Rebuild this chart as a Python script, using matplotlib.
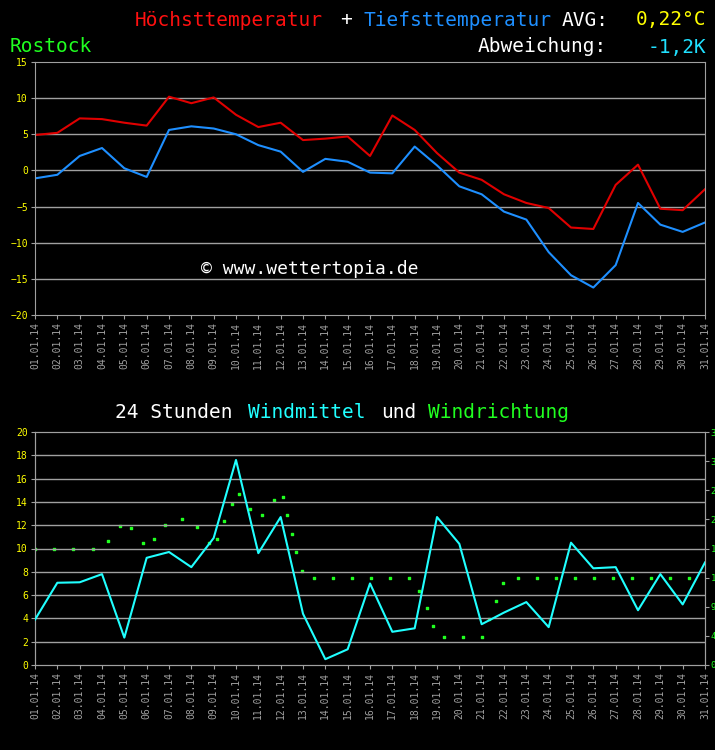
import matplotlib
matplotlib.use("Agg")
import matplotlib.pyplot as plt
import numpy as np

days = list(range(1, 32))
labels = [f"{d:02d}.01.14" for d in days]
tmax = [4.9,5.2,7.2,7.1,6.6,6.2,10.2,9.3,10.1,7.7,6.0,6.6,4.2,4.4,4.7,2.0,7.6,5.6,2.4,-0.3,-1.3,-3.3,-4.5,-5.2,-7.9,-8.1,-2.0,0.8,-5.3,-5.5,-2.6]
tmin = [-1.1,-0.6,2.0,3.1,0.3,-0.9,5.6,6.1,5.8,5.0,3.5,2.6,-0.2,1.6,1.2,-0.3,-0.4,3.3,0.7,-2.2,-3.3,-5.7,-6.8,-11.3,-14.5,-16.2,-13.1,-4.5,-7.5,-8.5,-7.2]
wind = [3.9,7.06,7.1,7.8,2.35,9.2,9.7,8.4,10.9,17.6,9.6,12.7,4.4,0.5,1.35,7.0,2.85,3.15,12.7,10.4,3.5,4.5,5.4,3.25,10.5,8.3,8.4,4.7,7.8,5.2,8.8]
dir_x = [1,1.87,2.72,3.6,4.28,4.79,5.32,5.82,6.33,6.82,7.59,8.26,8.8,9.17,9.47,9.8,10.12,10.63,11.16,11.69,12.09,12.29,12.5,12.7,12.94,13.51,14.34,15.19,16.04,16.89,17.74,18.21,18.53,18.82,19.33,20.18,21.03,21.35,21.64,21.94,22.61,23.46,24.31,25.16,26.01,26.87,27.72,28.57,29.42,30.27]
dir_deg = [180,180,180,180,191,214,211,188,194,217,225,213,189,195,222,249,264,241,231,255,259,231,203,175,146,135,135,135,135,135,135,115,88,61,44,44,44,71,99,126,135,135,135,135,135,135,135,135,135,135]

mono = "DejaVu Sans Mono"
plt.rcParams['font.family'] = mono
W, H = 715, 750
fig = plt.figure(figsize=(W/100, H/100), dpi=100, facecolor="black")

def ax_rect(l, t, r, b):
    return [l/W, 1-b/H, (r-l)/W, (b-t)/H]

def style(ax):
    ax.set_facecolor("black")
    for s in ax.spines.values():
        s.set_color("#a0a0a0")
    ax.set_xlim(1, 31)
    ax.set_xticks(days)
    ax.set_xticklabels(labels, rotation=90, color="white", fontsize=7)
    ax.tick_params(colors="#a0a0a0", length=3, pad=2)

ax1 = fig.add_axes(ax_rect(35, 62, 705, 315))
style(ax1)
ax1.set_ylim(-20, 15)
ax1.set_yticks(range(-20, 16, 5))
ax1.tick_params(axis='y', labelcolor="yellow", labelsize=7)
for y in range(-15, 15, 5):
    ax1.axhline(y, color="#a0a0a0", lw=1)
ax1.plot(days, tmax, color="#e00000", lw=1.5)
ax1.plot(days, tmin, color="#1e8fff", lw=1.5)
ax1.text(0.41, 0.18, "© www.wettertopia.de", transform=ax1.transAxes, color="white", fontsize=13, ha="center", va="center")

fs = 14
fig.text(135/W, 1-20/H, "Höchsttemperatur", color="#ff1010", fontsize=fs, va="center")
fig.text(340/W, 1-20/H, "+", color="white", fontsize=fs, va="center")
fig.text(363/W, 1-20/H, "Tiefsttemperatur", color="#1e8fff", fontsize=fs, va="center")
fig.text(562/W, 1-20/H, "AVG:", color="white", fontsize=fs, va="center")
fig.text(706/W, 1-20/H, "0,22°C", color="yellow", fontsize=fs, va="center", ha="right")
fig.text(10/W, 1-47/H, "Rostock", color="#20ff20", fontsize=fs, va="center")
fig.text(478/W, 1-47/H, "Abweichung:", color="white", fontsize=fs, va="center")
fig.text(706/W, 1-47/H, "-1,2K", color="#20e0ff", fontsize=fs, va="center", ha="right")

fig.text(115/W, 1-412/H, "24 Stunden", color="white", fontsize=fs, va="center")
fig.text(248/W, 1-412/H, "Windmittel", color="#20ffff", fontsize=fs, va="center")
fig.text(381/W, 1-412/H, "und", color="white", fontsize=fs, va="center")
fig.text(428/W, 1-412/H, "Windrichtung", color="#20ff20", fontsize=fs, va="center")

ax2 = fig.add_axes(ax_rect(35, 432, 705, 665))
style(ax2)
ax2.set_ylim(0, 20)
ax2.set_yticks(range(0, 21, 2))
ax2.tick_params(axis='y', labelcolor="yellow", labelsize=7)
for y in range(2, 20, 2):
    ax2.axhline(y, color="#a0a0a0", lw=1)
ax3 = ax2.twinx()
ax3.set_ylim(0, 360)
ax3.set_yticks(range(0, 361, 45))
ax3.set_yticklabels([f"{v}°" for v in range(0, 361, 45)])
ax3.tick_params(axis='y', labelcolor="#20ff20", colors="#a0a0a0", labelsize=6.5, length=3, pad=1)
for s in ax3.spines.values():
    s.set_color("#a0a0a0")
ax3.scatter(dir_x, dir_deg, s=2, color="#20ff20", marker="s", zorder=2)
ax2.set_zorder(ax3.get_zorder()+1)
ax2.patch.set_visible(False)
ax3.set_facecolor("black")
ax2.plot(days, wind, color="#20ffff", lw=1.5, zorder=3)

fig.savefig("out.png", dpi=100, facecolor="black")
